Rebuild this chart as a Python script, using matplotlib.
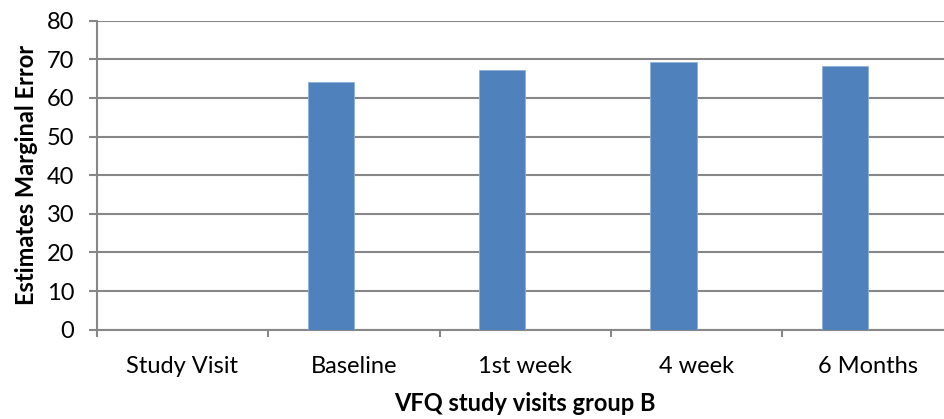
import numpy as np
from matplotlib import pyplot as plt

# Data
categories = ["Study Visit", "Baseline", "1st week", "4 week", "6 Months"]
values = [np.nan, 64.2, 67.2, 69.3, 68.3]
y_ticks = [0, 10, 20, 30, 40, 50, 60, 70, 80]

plt.rcParams['font.family'] = ['Lato', 'DejaVu Sans']

fig = plt.figure(figsize=(9.44, 4.19), dpi=100)
# axes runs a bit past the right edge, like the cropped original
ax = fig.add_axes([0.1024, 0.2131, 0.908, 0.7377])

grid_col = "#878787"
pos = np.arange(len(categories))
width = 0.27
ax.bar(pos - width / 2, values, width=width, color="#4f81bd",
       edgecolor="#8fb0d9", linewidth=0.6, zorder=3)

ax.set_ylim(0, 80)
ax.set_xlim(-0.5, len(categories) - 0.5)
ax.set_yticks(y_ticks)
ax.yaxis.grid(True, color=grid_col, linewidth=1.5, zorder=0)

ax.set_xticks(pos)
ax.set_xticklabels(categories)
ax.set_xticks(np.arange(len(categories) + 1) - 0.5, minor=True)
ax.tick_params(axis="x", which="major", length=0, pad=19, labelsize=17)
ax.tick_params(axis="x", which="minor", length=5, width=1.5, color=grid_col)
ax.tick_params(axis="y", length=6, width=1.5, color=grid_col, pad=10, labelsize=17)

for side in ["top", "right"]:
    ax.spines[side].set_visible(False)
for side in ["left", "bottom"]:
    ax.spines[side].set_color(grid_col)
    ax.spines[side].set_linewidth(1.5)

ax.set_xlabel("VFQ study visits group B", fontsize=17, fontweight="bold", labelpad=11)
ax.set_ylabel("Estimates Marginal Error", fontsize=17, fontweight="bold", labelpad=6)

fig.savefig("out.png", dpi=100)
